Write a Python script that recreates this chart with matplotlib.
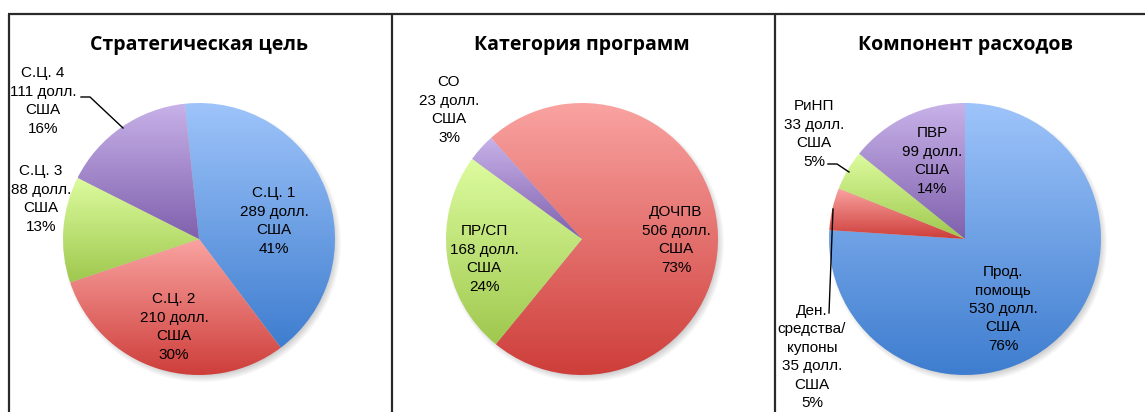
import numpy as np
import matplotlib
matplotlib.use("Agg")
import matplotlib.pyplot as plt
from matplotlib.colors import to_rgb

# figure size in pixels
W, H = 1145, 412

# chart data
titles = ["Стратегическая цель", "Категория программ", "Компонент расходов"]

goal_names = ["С.Ц. 1", "С.Ц. 2", "С.Ц. 3", "С.Ц. 4"]
goal_values = [289, 210, 88, 111]

prog_names = ["ДОЧПВ", "ПР/СП", "СО"]
prog_values = [506, 168, 23]

cost_names = ["Прод.\nпомощь", "Ден.\nсредства/\nкупоны", "РиНП", "ПВР"]
cost_values = [530, 35, 33, 99]

# (top, bottom) colour of the vertical gradient in each slice
BLUE = ("#9ec4fa", "#3e7dcf")
RED = ("#f9a3a1", "#ce3e3a")
GREEN = ("#ddfc9f", "#9fc84e")
PURPLE = ("#c8b2e9", "#7f60ad")

# pie layout, in pixels from the top-left corner
R = 136
pies = [
    dict(names=goal_names, values=goal_values, colors=[BLUE, RED, GREEN, PURPLE],
         cx=199, cy=239, start=96,
         offsets=[(75, 18), (-25, -88), (-158, 40), (-156, 138)]),
    dict(names=prog_names, values=prog_values, colors=[RED, GREEN, PURPLE],
         cx=582, cy=239, start=132,
         offsets=[(94, -1), (-98, -20), (-133, 129)]),
    dict(names=cost_names, values=cost_values, colors=[BLUE, RED, GREEN, PURPLE],
         cx=965, cy=239, start=90,
         offsets=[(38, -70), (-153, -118), (-151, 105), (-33, 78)]),
]

label_font = ["Liberation Sans Narrow", "Liberation Sans", "DejaVu Sans"]
title_font = ["Open Sans", "DejaVu Sans"]

fig = plt.figure(figsize=(W / 100, H / 100), dpi=100)
ax = fig.add_axes([0, 0, 1, 1])
ax.set_axis_off()


def py(y):
    # pixel row -> data y
    return H - y


def shadow(cx, cy, r):
    # soft grey shadow below and right of the pie
    n = 2 * (r + 20)
    xs = np.linspace(-r - 20, r + 20, n)
    X, Y = np.meshgrid(xs, xs)
    d = np.hypot(X - 3, Y + 4)
    a = np.clip((r + 4 - d) / 8, 0, 1) * 0.35
    img = np.zeros((n, n, 4))
    img[..., :3] = 0.45
    img[..., 3] = a
    ax.imshow(img, extent=[cx - r - 20, cx + r + 20, cy - r - 20, cy + r + 20],
              origin="lower", zorder=1, interpolation="bilinear")


for p in pies:
    cx, cy = p["cx"], py(p["cy"])
    shadow(cx, cy, R)
    wedges, _ = ax.pie(p["values"], center=(cx, cy), radius=R,
                       startangle=p["start"], counterclock=False,
                       wedgeprops=dict(linewidth=0))
    for w, (top, bot) in zip(wedges, p["colors"]):
        w.set_zorder(2)
        ext = w.get_path().get_extents()
        grad = np.linspace(0, 1, 256)[:, None, None]
        img = (1 - grad) * np.array(to_rgb(bot)) + grad * np.array(to_rgb(top))
        im = ax.imshow(img, extent=[ext.x0, ext.x1, ext.y0, ext.y1],
                       origin="lower", aspect="auto", zorder=3,
                       interpolation="bilinear")
        im.set_clip_path(w)
        w.set_facecolor("none")

    total = sum(p["values"])
    for name, v, (dx, dy) in zip(p["names"], p["values"], p["offsets"]):
        pct = round(100 * v / total)
        ax.text(cx + dx, cy + dy, f"{name}\n{v} долл.\nСША\n{pct}%",
                ha="center", va="center", fontsize=11, family=label_font,
                linespacing=1.4, zorder=5)

for t, p in zip(titles, pies):
    ax.text(p["cx"], py(45), t, ha="center", va="center", fontsize=14,
            fontweight="bold", family=title_font, zorder=5)

# leader lines for the outside labels
leaders = [
    [(81, 97), (90, 97), (123, 128)],
    [(828, 164), (837, 164), (849, 172)],
    [(829, 313), (833, 209)],
]
for pts in leaders:
    xs, ys = zip(*pts)
    ax.plot(xs, [py(y) for y in ys], color="black", lw=1, zorder=5)

# frame and dividers
line_kw = dict(color="#2a2a2a", lw=1.6, zorder=6, solid_capstyle="butt")
ax.plot([8, W], [py(14), py(14)], **line_kw)
for x in (9, 392, 775):
    ax.plot([x, x], [py(14), 0], **line_kw)

ax.set_xlim(0, W)
ax.set_ylim(0, H)
ax.set_aspect("equal")

fig.savefig("out.png", dpi=100)
